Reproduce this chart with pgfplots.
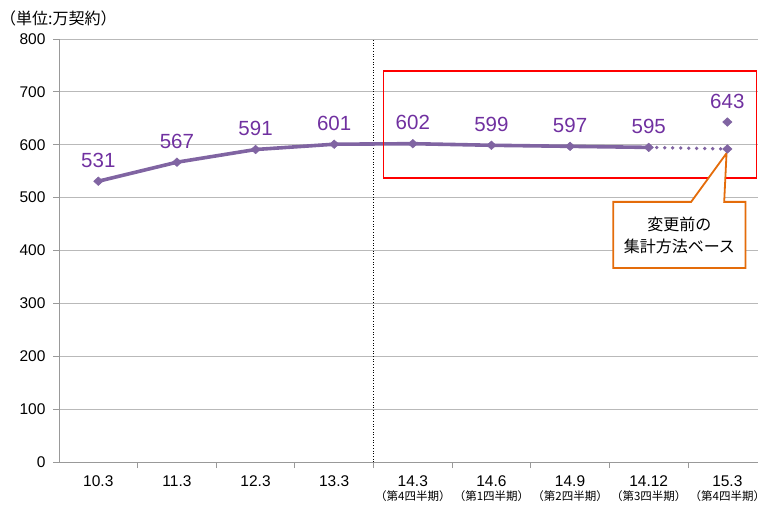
\documentclass[border=0pt]{standalone}
\usepackage{pgfplots}
\pgfplotsset{compat=1.18}
\usepackage{fontspec}
\setmainfont{Liberation Sans}
\newfontfamily\jp{Noto Sans CJK JP}
\definecolor{linepurple}{HTML}{8064A2}
\definecolor{labpurple}{HTML}{7030A0}
\definecolor{calloutorange}{HTML}{E46C0A}
\begin{document}
\begin{tikzpicture}
\useasboundingbox (0,0) rectangle (758pt,504pt);
\node[anchor=west,font=\jp\fontsize{16}{18}\selectfont,inner sep=0pt] at (0pt,486pt) {（単位:万契約）};
\begin{axis}[
  at={(59pt,42pt)}, anchor=south west,
  scale only axis, width=699pt, height=423pt,
  xmin=-0.5, xmax=8.39, ymin=0, ymax=800,
  axis x line*=bottom, axis y line*=left,
  axis line style={draw=gray!80, line width=0.8pt},
  ytick={0,100,...,800},
  ymajorgrids, grid style={draw=gray!55, line width=0.8pt},
  xtick={0,...,8},
  xticklabels={10.3,11.3,12.3,13.3,
    {14.3\\[-3pt]{\jp\fontsize{11.5}{12}\selectfont （第4四半期）}},
    {14.6\\[-3pt]{\jp\fontsize{11.5}{12}\selectfont （第1四半期）}},
    {14.9\\[-3pt]{\jp\fontsize{11.5}{12}\selectfont （第2四半期）}},
    {14.12\\[-3pt]{\jp\fontsize{11.5}{12}\selectfont （第3四半期）}},
    {15.3\\[-3pt]{\jp\fontsize{11.5}{12}\selectfont （第4四半期）}}},
  xticklabel style={align=center, anchor=north, yshift=-4pt},
  major x tick style={draw=none},
  minor xtick={0.5,1.5,...,7.5},
  minor x tick style={draw=gray!80, line width=0.8pt},
  minor tick length=6pt,
  tick align=outside,
  major tick length=6pt,
  y tick style={draw=gray!80, line width=0.8pt},
  ticklabel style={font=\fontsize{15.5}{17}\selectfont},
  yticklabel style={xshift=-4pt},
  /pgf/number format/assume math mode=true,
  clip=false,
]
\draw[black, dotted, line width=0.7pt] (axis cs:3.5,0) -- (axis cs:3.5,800);
\addplot[linepurple, line width=3.6pt, mark=diamond*, mark size=4.3pt,
  mark options={xscale=1.45, fill=linepurple, draw=linepurple, line width=0.5pt},
  nodes near coords, point meta=explicit symbolic,
  every node near coord/.style={font=\fontsize{20.5}{22}\selectfont, text=labpurple, anchor=south, yshift=10pt}]
  table[meta=lab] {
x y lab
0 531 531
1 567 567
2 591 591
3 601 601
4 602 602
5 599 599
6 597 597
7 595 595
};
\addplot[linepurple, line width=3.8pt, line cap=round, dash pattern=on 0pt off 8pt,
  mark=diamond*, mark size=4.3pt, mark options={solid, xscale=1.45, fill=linepurple, draw=linepurple, line width=0.5pt}, mark indices={2}]
  coordinates {(7,595) (8,592)};
\addplot[only marks, mark=diamond*, mark size=4.3pt, mark options={xscale=1.45, fill=linepurple, draw=linepurple, line width=0.5pt},
  nodes near coords, point meta=explicit symbolic,
  every node near coord/.style={font=\fontsize{20.5}{22}\selectfont, text=labpurple, anchor=south, yshift=10pt}]
  coordinates {(8,643) [643]};
\draw[red, line width=1.5pt] (axis cs:3.63,537) rectangle (axis cs:8.37,739.5);
\draw[calloutorange, line width=1.8pt, fill=white, line join=miter]
  (axis cs:6.55,492) -- (axis cs:7.54,492) -- (axis cs:7.99,584) -- (axis cs:7.96,492)
  -- (axis cs:8.23,492) -- (axis cs:8.23,367) -- (axis cs:6.55,367) -- cycle;
\node[align=center, font=\jp\fontsize{16}{22}\selectfont] at (axis cs:7.39,429) {変更前の\\集計方法ベース};
\end{axis}
\end{tikzpicture}
\end{document}
